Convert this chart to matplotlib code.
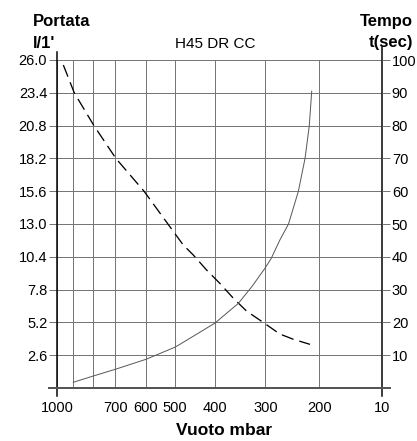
import numpy as np
import matplotlib
matplotlib.use("Agg")
import matplotlib.pyplot as plt

# ---------------- data ----------------
x_ticks = [1000, 900, 800, 700, 600, 500, 400, 300, 200, 10]
x_tick_labels = ["1000", "", "", "700", "600", "500", "400", "300", "200", "10"]

left_ticks = [2.6, 5.2, 7.8, 10.4, 13.0, 15.6, 18.2, 20.8, 23.4, 26.0]
right_ticks = [10, 20, 30, 40, 50, 60, 70, 80, 90, 100]

# Portata (l/1') vs vuoto (dashed)
vuoto_portata = [961, 895, 797, 698, 606, 522, 477, 451, 419, 389, 360, 334, 303, 269, 243, 214.5]
portata = [25.6, 23.4, 20.8, 18.2, 15.6, 13.0, 11.34, 10.54, 9.35, 8.29, 7.11, 6.10, 5.18, 4.28, 3.86, 3.46]

# Tempo (sec) vs vuoto (solid)
vuoto_tempo = [900, 800, 700, 600, 500, 486, 400, 350, 324, 300.6, 287, 269, 252, 234, 222.6, 215.6, 211.7]
tempo = [1.74, 3.66, 5.7, 8.75, 12.4, 13.3, 19.8, 25.8, 30.9, 36.5, 39.5, 45.1, 50, 60, 70, 80, 90.5]

# ---------------- custom vacuum scale (chart's own axis spacing) ----------------
_anchor_p = np.array([1000, 900, 800, 700, 600, 500, 400, 300, 200, 10], float)
_anchor_pos = np.array([0, 16, 36, 58, 88.7, 117.4, 157.7, 208, 262, 324.4])
_anchor_lp = -np.log10(_anchor_p)


def forward(p):
    p = np.clip(np.asarray(p, float), 1e-3, None)
    return np.interp(-np.log10(p), _anchor_lp, _anchor_pos)


def inverse(x):
    x = np.asarray(x, float)
    return 10 ** (-np.interp(x, _anchor_pos, _anchor_lp))


FONT = "Liberation Sans"
tick_font = dict(family=FONT, fontsize=10.5)
label_font = dict(family=FONT, fontsize=12, fontweight="bold")

W, H = 417, 441
fig = plt.figure(figsize=(W / 100, H / 100), dpi=100)
ax_l, ax_r, ax_t, ax_b = 57.3, 381.7, 60, 388
ax = fig.add_axes([ax_l / W, 1 - ax_b / H, (ax_r - ax_l) / W, (ax_b - ax_t) / H])
ax.set_xscale("function", functions=(forward, inverse))
ax.set_xlim(10, 1000)
ax.set_ylim(0, 26)

ax2 = ax.twinx()
ax2.set_ylim(0, 100)

grid_c = "#767676"
px = 0.72  # points per pixel

for a in (ax, ax2):
    for s in a.spines.values():
        s.set_visible(False)

ax.set_xticks(x_ticks)
ax.set_xticklabels(x_tick_labels, **tick_font)
ax.set_yticks(left_ticks)
ax.set_yticklabels([f"{v:.1f}" for v in left_ticks], **tick_font)
ax2.set_yticks(right_ticks)
ax2.set_yticklabels([str(v) for v in right_ticks], **tick_font)

ax.tick_params(axis="x", length=0, pad=9)
ax.tick_params(axis="y", direction="out", length=8 * px, width=1 * px, color=grid_c, pad=1.5)
ax2.tick_params(axis="y", direction="out", length=8 * px, width=1 * px, color=grid_c, pad=1.5)

ax.grid(True, color=grid_c, linewidth=1.0 * px)
ax.set_axisbelow(True)

# spines drawn as extended lines like the original
ext = 8 / 328
ax.plot([0, 0], [-ext, 1 + ext], transform=ax.transAxes, color="black", lw=1.5 * px, clip_on=False, zorder=5)
ax.plot([1, 1], [-ext, 1 + 12.7 / 328], transform=ax.transAxes, color="black", lw=1.5 * px, clip_on=False, zorder=5)
ax.plot([-8 / 324.4, 1 + 8 / 324.4], [0, 0], transform=ax.transAxes, color="#555555", lw=2.0 * px, clip_on=False, zorder=5)

# curves
ax.plot(vuoto_portata, portata, color="black", lw=1.3 * px, dashes=(12.5 / 1.3, 6 / 1.3), zorder=4)
ax2.plot(vuoto_tempo, tempo, color="#5a5a5a", lw=1.0 * px, zorder=4)

# texts
def ftext(x, y, s, **kw):
    fig.text(x / W, 1 - y / H, s, va="baseline", **kw)

ftext(33, 26, "Portata", ha="left", **label_font)
ftext(33, 48, "l/1'", ha="left", **label_font)
ftext(413, 26, "Tempo", ha="right", **label_font)
ftext(413, 47, "t(sec)", ha="right", **label_font)
ftext(215, 48, "H45 DR CC", ha="center", family=FONT, fontsize=11)
ftext(224, 435, "Vuoto mbar", ha="center", family=FONT, fontsize=12.5, fontweight="bold")

fig.savefig("out.png", dpi=100)
